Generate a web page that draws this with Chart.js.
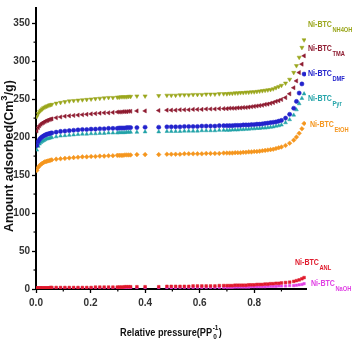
<!DOCTYPE html>
<html><head><meta charset="utf-8">
<script src="https://cdn.jsdelivr.net/npm/chart.js@4/dist/chart.umd.min.js"></script>
<style>html,body{margin:0;padding:0;background:#fff}#wrap{width:361px;height:339px}</style>
</head><body><div id="wrap"><canvas id="c" width="361" height="339"></canvas></div>
<script>
const xValues = [0.003,0.008,0.013,0.018,0.023,0.028,0.033,0.038,0.043,0.048,0.053,0.058,
0.074,0.09,0.106,0.122,0.138,0.154,0.17,0.186,0.202,0.218,0.234,0.25,0.266,0.282,
0.298,0.305,0.312,0.319,0.326,0.333,0.34,0.347,
0.37,0.40,0.45,
0.48,0.496,0.512,0.528,0.544,0.56,0.576,0.592,0.608,0.624,0.64,0.656,0.672,0.688,
0.70,0.71,0.72,0.73,0.74,0.75,0.76,0.77,0.78,0.79,0.80,0.81,0.82,0.83,0.84,0.85,0.86,0.87,0.88,0.89,0.90,
0.915,0.93,0.945,0.955,0.965,0.975,0.983];

const yNH4OH = [227,231,233.5,235.5,237,238.5,239.5,240.5,241,242,242.5,243,
244.5,245.5,246.5,247.5,248,248.5,249,249.5,250,250.5,251,251.5,252,252,
252.5,252.5,253,253,253,253,253.5,253.5,
254,254,254.5,
255,255,255,255.5,255.5,255.5,256,256,256,256.5,256.5,256.5,257,257,
257,257.5,257.5,258,258,258.5,258.5,259,259,259.5,259.5,260,260.5,261,261.5,262,262.5,263.5,265,266.5,268,
271,276,285,294,305,318,328];

const yTMA = [208,212.5,215,217,218.5,219.5,220.5,221.5,222,223,223.5,224,
225.5,226.5,227.5,228,228.5,229,229.5,230,230.5,231,231.5,232,232,232.5,
233,233,233,233.5,233.5,233.5,234,234,
234.5,234.5,235,
235.5,235.5,235.5,236,236,236,236.5,236.5,236.5,237,237,237,237.5,237.5,
237.5,238,238,238,238.5,238.5,239,239,239.5,240,240.5,241,241.5,242,243,243.5,244.5,245.5,247,248,249.5,
252,257,265,274,285,296,307];

const yDMF = [189,194,197,199,200.5,201.5,202.5,203.5,204,204.5,205,205.5,
206.5,207.5,208,208.5,209,209.5,210,210,210.5,210.5,211,211,211.5,211.5,
211.5,212,212,212,212,212.5,212.5,212.5,
212.5,213,213,
213.5,213.5,213.5,213.5,214,214,214,214,214.5,214.5,214.5,214.5,215,215,
215,215,215,215.5,215.5,215.5,216,216,216,216.5,216.5,217,217,217.5,218,218.5,219,219.5,220,221,222,
225,230,238,247,258,270,283];

const yPyr = [183,188,191,193,194.5,195.5,196.5,197.5,198,198.5,199,199.5,
200.5,201.5,202,202.5,203,203.5,204,204,204.5,204.5,205,205,205.5,205.5,
205.5,206,206,206,206,206.5,206.5,206.5,
206.5,207,207,
207.5,207.5,207.5,207.5,208,208,208,208,208.5,208.5,208.5,208.5,209,209,
209,209,209.5,209.5,209.5,210,210,210.5,210.5,211,211,211.5,211.5,212,212,212.5,213,213.5,214.5,215,216,
219,223,229,236,244,251,257];

const yEtOH = [156,160,162.5,164,165.5,166.5,167.5,168,168.5,169,169.5,170,
171,171.5,172,172.5,173,173.5,174,174,174.5,174.5,175,175,175.5,175.5,
176,176,176,176,176.5,176.5,176.5,176.5,
177,177,177,
177.5,177.5,177.5,177.5,178,178,178,178,178,178.5,178.5,178.5,178.5,179,
179,179,179,179.5,179.5,179.5,180,180,180.5,180.5,181,181,181.5,182,182.5,183,183.5,184,185,186,187,
189,192,196,200,205,211,218];

const yANL = [1.5,1.5,1.5,1.5,1.5,1.5,1.5,1.5,1.5,1.5,2,2,
2,2,2,2,2,2,2,2,2,2.5,2.5,2.5,2.5,2.5,
2.5,2.5,2.5,2.5,3,3,3,3,
3,3,3,
3.5,3.5,3.5,3.5,3.5,3.5,4,4,4,4,4,4,4.5,4.5,
4.5,4.5,4.5,5,5,5,5,5,5.5,5.5,5.5,6,6,6,6.5,6.5,7,7,7.5,7.5,8,
8.5,9,10,11,12,13.5,15];

const yNaOH = [1,1,1,1,1,1,1,1,1,1,1,1,
1,1,1,1,1,1,1,1,1,1,1,1,1,1,
1,1,1,1.5,1.5,1.5,1.5,1.5,
1.5,1.5,1.5,
1.5,1.5,1.5,2,2,2,2,2,2,2,2,2,2,2,
2,2,2,2.5,2.5,2.5,2.5,2.5,2.5,3,3,3,3,3,3,3.5,3.5,3.5,3.5,4,4,
4,4.5,4.5,5,5.5,6,7];

const seriesNames = ['NH4OH','TMA','DMF','Pyr','EtOH','ANL','NaOH'];
const seriesValues = [yNH4OH,yTMA,yDMF,yPyr,yEtOH,yANL,yNaOH];
const yTickValues = [0,50,100,150,200,250,300,350];
const xTickValues = [0,0.2,0.4,0.6,0.8];

const colors = ['#9aa61c','#8e1b30','#2323cc','#22a3a8','#f5961e','#e01a2c','#e040e4'];
const styles = [
  {pointStyle:'triangle',rotation:180,r:2.4},
  {pointStyle:'triangle',rotation:270,r:2.4},
  {pointStyle:'circle',rotation:0,r:2.1},
  {pointStyle:'triangle',rotation:0,r:2.2},
  {pointStyle:'rectRot',rotation:0,r:2.3},
  {pointStyle:'rect',rotation:0,r:1.9},
  {pointStyle:'rect',rotation:0,r:1.7}
];

const datasets = seriesNames.map((n,i)=>({
  label:'Ni-BTC '+n,
  data: xValues.map((x,j)=>({x:x,y:seriesValues[i][j]})),
  showLine:false,
  pointStyle:styles[i].pointStyle,
  rotation:styles[i].rotation,
  pointRadius:styles[i].r,
  pointBackgroundColor:colors[i],
  pointBorderColor:colors[i],
  pointBorderWidth:0.5
}));

const FONT = '"Liberation Sans",Arial,sans-serif';

const labelPos = [
  {x:308,y:25},{x:308,y:49},{x:308,y:74},{x:308,y:99},{x:310,y:125},{x:295,y:263},{x:311,y:284}
];

function narrowText(ctx, text, x, y, sx){
  ctx.save(); ctx.translate(x,y); ctx.scale(sx,1); ctx.fillText(text,0,0); ctx.restore();
}

const decor = {
  id:'decor',
  afterDraw(chart){
    const ctx = chart.ctx;
    const xs = chart.scales.x, ys = chart.scales.y;
    ctx.save();
    // minor ticks
    ctx.strokeStyle = '#000'; ctx.lineWidth = 1.2;
    for (let v=25; v<370; v+=50){
      const p = ys.getPixelForValue(v);
      ctx.beginPath(); ctx.moveTo(ys.right-2.5,p); ctx.lineTo(ys.right,p); ctx.stroke();
    }
    for (let v=0.1; v<0.99; v+=0.2){
      const p = xs.getPixelForValue(v);
      ctx.beginPath(); ctx.moveTo(p,xs.top); ctx.lineTo(p,xs.top+2.5); ctx.stroke();
    }
    // series labels
    const S1 = 0.83, S2 = 0.88;
    seriesNames.forEach((n,i)=>{
      const lp = labelPos[i];
      ctx.fillStyle = colors[i];
      ctx.textBaseline = 'middle';
      ctx.textAlign = 'left';
      ctx.font = 'bold 8.5px '+FONT;
      narrowText(ctx,'Ni-BTC', lp.x, lp.y, S1);
      const w = ctx.measureText('Ni-BTC').width*S1;
      ctx.font = 'bold 6.5px '+FONT;
      narrowText(ctx, n, lp.x+w+0.5, lp.y+5, S2);
    });
    // x title
    const SX = 0.92;
    ctx.fillStyle = '#111';
    ctx.textBaseline = 'alphabetic';
    ctx.font = 'bold 10px '+FONT;
    const t1 = 'Relative pressure(PP';
    const w1 = ctx.measureText(t1).width*SX;
    ctx.font = 'bold 7px '+FONT;
    const wsup = ctx.measureText('-1').width*SX;
    ctx.font = 'bold 10px '+FONT;
    const w3 = ctx.measureText(')').width*SX;
    const total = w1 + wsup + w3 + 1;
    let sx = 171 - total/2;
    const by = 336;
    narrowText(ctx, t1, sx, by, SX);
    ctx.font = 'bold 7px '+FONT;
    narrowText(ctx, '-1', sx+w1+0.5, by-6, SX);
    narrowText(ctx, '0', sx+w1+1, by+3, SX);
    ctx.font = 'bold 10px '+FONT;
    narrowText(ctx, ')', sx+w1+wsup+1, by, SX);
    // y title
    ctx.translate(13,156);
    ctx.rotate(-Math.PI/2);
    ctx.font = 'bold 12.5px '+FONT;
    const a1 = 'Amount adsorbed(Cm', a3 = '/g)';
    const wa1 = ctx.measureText(a1).width, wa3 = ctx.measureText(a3).width;
    ctx.font = 'bold 9.5px '+FONT;
    const wa2 = ctx.measureText('3').width;
    const tot = wa1+wa2+wa3;
    let ax = -tot/2;
    ctx.font = 'bold 12.5px '+FONT;
    ctx.fillText(a1, ax, 0);
    ctx.font = 'bold 9.5px '+FONT;
    ctx.fillText('3', ax+wa1, -6.5);
    ctx.font = 'bold 12.5px '+FONT;
    ctx.fillText(a3, ax+wa1+wa2, 0);
    ctx.restore();
  }
};

new Chart(document.getElementById('c'), {
  type:'scatter',
  data:{datasets},
  options:{
    responsive:false,
    animation:false,
    layout:{padding:{top:5,right:55,left:0,bottom:0}},
    plugins:{legend:{display:false},tooltip:{enabled:false}},
    scales:{
      x:{
        type:'linear', min:0, max:0.99,
        afterFit(s){ s.height = 50; },
        afterBuildTicks(s){ s.ticks = xTickValues.map(v=>({value:v})); },
        grid:{display:true,drawOnChartArea:false,drawTicks:true,tickLength:4,tickColor:'#000',tickWidth:1.3},
        border:{display:true,color:'#000',width:2},
        ticks:{font:{family:FONT,size:10,weight:'bold'},color:'#333',padding:4,maxRotation:0,
          callback:(v)=>Number(v).toFixed(1)}
      },
      y:{
        type:'linear', min:0, max:370,
        afterFit(s){ s.width = 36; },
        afterBuildTicks(s){ s.ticks = yTickValues.map(v=>({value:v})); },
        grid:{display:true,drawOnChartArea:false,drawTicks:true,tickLength:4,tickColor:'#000',tickWidth:1.3},
        border:{display:true,color:'#000',width:2},
        ticks:{font:{family:FONT,size:10,weight:'bold'},color:'#333',padding:2,
          callback:(v)=>String(v)}
      }
    }
  },
  plugins:[decor]
});
</script>
</body></html>
